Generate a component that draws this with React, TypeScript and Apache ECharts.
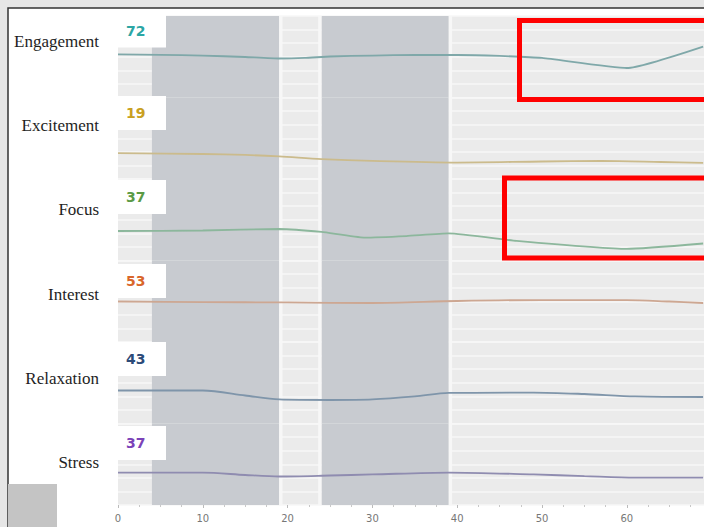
import React, { useEffect, useRef } from "react";
import * as echarts from "echarts";

const metricNames = ["Engagement", "Excitement", "Focus", "Interest", "Relaxation", "Stress"];
const currentValues = [72, 19, 37, 53, 43, 37];
const valueColors = ["#2ca6a4", "#c9a021", "#5b9a45", "#d9662a", "#2c4a78", "#7b42b8"];
const lineColors = ["#7fa8a9", "#cbbb8c", "#8cb79c", "#cda792", "#7f95aa", "#8f8cb0"];
const smoothness = [0.15, 0.3, 0.15, 0.3, 0.3, 0.3];

const xEngagement = [0, 5, 10, 15, 19, 22, 25, 30, 35, 40, 45, 50, 60, 69];
const engagement = [31.7, 31.4, 30.9, 29.8, 28.7, 29.1, 30.2, 30.9, 31.3, 31.3, 30.6, 29.1, 21.7, 37.5];

const xExcitement = [0, 10, 15, 19, 24, 30, 40, 50, 57, 64, 69];
const excitement = [19.1, 18.4, 17.7, 16.6, 14.7, 13.3, 12.1, 12.9, 13.3, 12.5, 11.8];

const xFocus = [0, 10, 19, 24, 29, 34, 39, 47, 60, 69];
const focus = [21.7, 22.1, 23.2, 21.0, 16.9, 18.0, 19.9, 14.4, 8.5, 12.5];

const xInterest = [0, 10, 20, 30, 40, 50, 60, 65, 69];
const interest = [29.8, 29.4, 29.1, 28.7, 30.2, 30.9, 30.9, 29.8, 28.7];

const xRelaxation = [0, 10, 15, 19, 25, 30, 35, 39, 49, 55, 61, 69];
const relaxation = [24.3, 24.3, 20.6, 17.7, 17.3, 17.7, 19.9, 22.5, 22.8, 21.7, 19.9, 19.5];

const xStress = [0, 10, 15, 19, 25, 30, 39, 49, 55, 61, 69];
const stress = [23.9, 23.9, 22.1, 21.0, 21.7, 22.5, 23.9, 22.5, 21.3, 20.2, 20.2];

const seriesX = [xEngagement, xExcitement, xFocus, xInterest, xRelaxation, xStress];
const seriesY = [engagement, excitement, focus, interest, relaxation, stress];

const bandRanges = [[4, 19], [24, 39]];
const bandEdges = [[19, 19.4], [23.6, 24], [39, 39.4]];

export default function App() {
  const ref = useRef<HTMLDivElement>(null);
  useEffect(() => {
    document.body.style.margin = "0";
    if (!ref.current) return;
    const chart = echarts.init(ref.current, undefined, { renderer: "svg" });
    const top0 = 16;
    const panelH = 81.5;
    const grids: any[] = [];
    const xAxes: any[] = [];
    const yAxes: any[] = [];
    const series: any[] = [];
    const graphics: any[] = [];

    graphics.push({ type: "rect", z: -10, shape: { x: 0, y: 0, width: 704, height: 527 }, style: { fill: "#e6e6e6" } });
    graphics.push({ type: "rect", z: -9, shape: { x: 8, y: 8, width: 700, height: 525 }, style: { fill: "#ffffff", stroke: "#333333", lineWidth: 1.5 } });

    metricNames.forEach((name, i) => {
      const top = top0 + i * panelH;
      grids.push({ left: 118, right: 0, top, height: panelH, show: true, backgroundColor: "#ebebeb", borderWidth: 0 });
      const last = i === metricNames.length - 1;
      xAxes.push({
        type: "value",
        gridIndex: i,
        min: 0,
        max: 69.1,
        interval: 10,
        splitLine: { show: false },
        axisLine: { show: false },
        axisTick: { show: last, length: 3, lineStyle: { color: "#bbbbbb" } },
        minorTick: { show: last, splitNumber: 4, length: 2, lineStyle: { color: "#c8c8c8" } },
        axisLabel: {
          show: last,
          showMaxLabel: false,
          color: "#777777",
          fontFamily: "DejaVu Sans",
          fontSize: 10,
          margin: 8,
        },
      });
      yAxes.push({
        type: "value",
        gridIndex: i,
        min: 0,
        max: 60,
        interval: 10,
        axisLabel: { show: false },
        axisLine: { show: false },
        axisTick: { show: false },
        splitLine: { show: true, lineStyle: { color: "#f7f7f7", width: 1.5 } },
      });
      const areas: any[] = bandRanges.map((b) => [{ xAxis: b[0] }, { xAxis: b[1] }]);
      bandEdges.forEach((e) => areas.push([{ xAxis: e[0], itemStyle: { color: "#f7f7f7" } }, { xAxis: e[1] }]));
      series.push({
        type: "line",
        name,
        xAxisIndex: i,
        yAxisIndex: i,
        data: seriesX[i].map((x, k) => [x, seriesY[i][k]]),
        showSymbol: false,
        smooth: smoothness[i],
        lineStyle: { color: lineColors[i], width: 1.8 },
        itemStyle: { color: lineColors[i] },
        silent: true,
        markArea: {
          silent: true,
          itemStyle: { color: "#c8cbd0" },
          data: areas,
        },
      });
    });

    const numCenters = [30.5, 113, 197, 281, 359, 443];
    const labelCenters = [41, 125, 209, 294, 378, 462];
    metricNames.forEach((name, i) => {
      graphics.push({
        type: "rect",
        z: 50,
        shape: { x: 118, y: numCenters[i] - 17, width: 48, height: 34 },
        style: { fill: "#ffffff" },
      });
      graphics.push({
        type: "text",
        z: 51,
        x: 126,
        y: numCenters[i],
        style: {
          text: String(currentValues[i]),
          fill: valueColors[i],
          font: "bold 14px 'DejaVu Sans'",
          textVerticalAlign: "middle",
          textAlign: "left",
        },
      });
      graphics.push({
        type: "text",
        z: 51,
        x: 99,
        y: labelCenters[i],
        style: {
          text: name,
          fill: "#1e1e1e",
          font: "17px 'Liberation Serif'",
          textVerticalAlign: "middle",
          textAlign: "right",
        },
      });
    });

    graphics.push({
      type: "rect",
      z: 60,
      shape: { x: 519.5, y: 20.5, width: 200, height: 79 },
      style: { fill: "none", stroke: "#ff0000", lineWidth: 5 },
    });
    graphics.push({
      type: "rect",
      z: 60,
      shape: { x: 504.5, y: 178, width: 220, height: 80 },
      style: { fill: "none", stroke: "#ff0000", lineWidth: 5 },
    });
    graphics.push({
      type: "rect",
      z: 60,
      shape: { x: 8, y: 484, width: 49, height: 50 },
      style: { fill: "#c4c4c4" },
    });

    chart.setOption({
      animation: false,
      grid: grids,
      xAxis: xAxes,
      yAxis: yAxes,
      series,
      graphic: graphics,
    });
    return () => chart.dispose();
  }, []);
  return <div ref={ref} style={{ width: 704, height: 527 }} />;
}
